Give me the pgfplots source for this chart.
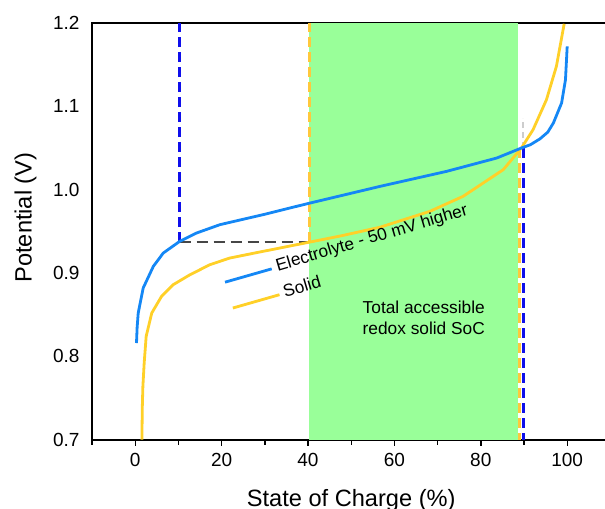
\documentclass[border=0pt]{standalone}
\usepackage{fontspec}
\setmainfont{Liberation Sans}
\usepackage{pgfplots}
\pgfplotsset{compat=1.18}
\definecolor{ecol}{RGB}{20,135,245}
\definecolor{scol}{RGB}{255,208,40}
\definecolor{dblue}{RGB}{15,15,235}
\definecolor{dorange}{RGB}{255,200,60}
\definecolor{sgreen}{RGB}{153,255,153}
\definecolor{dgray}{RGB}{70,70,70}
\definecolor{lgray}{RGB}{205,205,205}
\begin{document}
\begin{tikzpicture}
\begin{axis}[
  at={(0,0)}, anchor=south west,
  scale only axis, width=518.4pt, height=416.7pt,
  xmin=-10, xmax=110, ymin=0.7, ymax=1.2,
  xtick={0,20,40,60,80,100},
  minor xtick={-10,10,30,50,70,90,110},
  ytick={0.7,0.8,0.9,1.0,1.1,1.2},
  xtick pos=bottom,
  tick align=outside,
  major tick length=6pt, minor tick length=5pt,
  xtick style={black, line width=1.4pt},
  minor tick style={black, line width=1.4pt},
  ytick style={draw=none},
  axis line style={black, line width=1.8pt},
  /pgf/number format/assume math mode=true,
  yticklabel style={/pgf/number format/fixed, /pgf/number format/fixed zerofill, /pgf/number format/precision=1, xshift=-3pt},
  ticklabel style={font=\fontsize{19}{22}\selectfont},
  xticklabel style={yshift=-4pt},
  xlabel={State of Charge (\%)},
  ylabel={Potential (V)},
  label style={font=\fontsize{23.6}{28}\selectfont},
  xlabel style={at={(rel axis cs:0.5,-0.1608)}, anchor=base},
  ylabel style={at={(rel axis cs:-0.1163,0.533)}, anchor=base},
  clip=false,
]
% accessible region
\addplot[fill=sgreen, draw=none] coordinates {(40.3,0.7) (88.7,0.7) (88.7,1.2) (40.3,1.2)} -- cycle;

% dashed guide lines
\addplot[dgray, line width=2.5pt, dash pattern=on 11pt off 6pt] coordinates {(10.3,0.937) (40.3,0.937)};
\addplot[dblue, line width=2.7pt, dash pattern=on 10pt off 5pt] coordinates {(10.3,0.937) (10.3,1.2)};
\addplot[dblue, line width=2.7pt, dash pattern=on 10pt off 5pt] coordinates {(89.9,1.05) (89.9,0.7)};
\addplot[dorange, line width=2.7pt, dash pattern=on 10pt off 5pt] coordinates {(40.3,0.937) (40.3,1.2)};
\addplot[dorange, line width=2.7pt, dash pattern=on 10pt off 5pt] coordinates {(88.9,1.05) (88.9,0.7)};
\addplot[lgray, line width=1.5pt, dash pattern=on 6pt off 4pt] coordinates {(89.8,1.05) (89.8,1.086)};

% Solid
\addplot[scol, line width=2.8pt] coordinates {
(1.55,0.700) (1.65,0.740) (1.78,0.764) (2.08,0.792) (2.54,0.824) (3.83,0.852)
(6.1,0.872) (8.8,0.886) (12.7,0.898) (17.3,0.910) (21.9,0.918) (29.6,0.926)
(40.3,0.937) (48,0.945) (56.7,0.955) (68.2,0.974) (75.9,0.992) (85.2,1.024)
(89.4,1.050) (92.1,1.072) (95.2,1.108) (97.5,1.148) (99.3,1.199)
};
% Electrolyte
\addplot[ecol, line width=2.8pt] coordinates {
(0.3,0.816) (0.45,0.835) (0.7,0.852) (1.85,0.882) (4.2,0.908) (6.5,0.924)
(10.3,0.938) (14.2,0.948) (19.6,0.958) (25,0.9645) (30,0.9705) (35,0.977)
(40.5,0.984) (56.7,1.004) (72.1,1.022) (83.7,1.038) (89.4,1.050) (91.5,1.054)
(93.7,1.061) (95.5,1.069) (96.8,1.080) (98.7,1.104) (99.6,1.132) (100,1.172)
};

% legend-like lines
\addplot[ecol, line width=2.8pt] coordinates {(20.8,0.889) (31.6,0.905)};
\addplot[scol, line width=2.8pt] coordinates {(22.6,0.858) (33.4,0.874)};

\node[anchor=base, rotate=16.5, inner sep=0pt, font=\fontsize{17.3}{20}\selectfont] at (axis cs:55.1,0.936) {Electrolyte - 50 mV higher};
\node[anchor=base, rotate=16.5, inner sep=0pt, font=\fontsize{17.3}{20}\selectfont] at (axis cs:39.0,0.877) {Solid};
\node[anchor=base, inner sep=0pt, font=\fontsize{17.3}{20}\selectfont] at (axis cs:66.8,0.851) {Total accessible};
\node[anchor=base, inner sep=0pt, font=\fontsize{17.3}{20}\selectfont] at (axis cs:66.8,0.826) {redox solid SoC};
\end{axis}
\pgfresetboundingbox
\path[use as bounding box] (-92pt,-69pt) rectangle (513pt,439.7pt);
\end{tikzpicture}
\end{document}
